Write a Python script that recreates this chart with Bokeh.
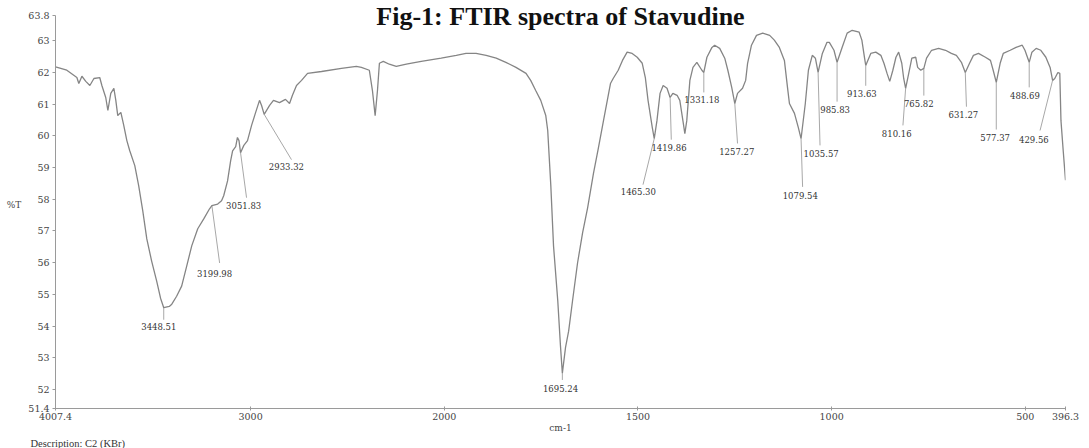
from bokeh.plotting import figure
from bokeh.models import FixedTicker, Label, Range1d, CustomJSTickFormatter, Title
from bokeh.embed import file_html
from bokeh.resources import INLINE
from bokeh.core.properties import value

# ---- spectrum (wavenumber cm-1, %T) ----
wavenumber = [
    4007.4, 3949, 3897, 3887, 3871, 3851, 3830, 3809, 3779, 3768, 3748, 3737, 3722, 3706, 3696,
    3686, 3670, 3655, 3639, 3624, 3598, 3578, 3557, 3536, 3511, 3485, 3465, 3448.5, 3420, 3407,
    3382, 3356, 3330, 3304, 3273, 3242, 3212, 3200, 3170, 3150, 3139, 3119, 3103, 3093, 3077,
    3068, 3060, 3052, 3035, 3016, 2995, 2974, 2954, 2943, 2930, 2902, 2882, 2851, 2820, 2799,
    2784, 2763, 2737, 2706, 2634, 2531, 2454, 2428, 2387, 2371, 2357, 2345, 2335, 2315, 2284,
    2248, 2196, 2119, 2016, 1969, 1944, 1918, 1892, 1866, 1841, 1815, 1789, 1777, 1764, 1751,
    1738, 1733, 1725, 1718, 1707, 1700, 1695.24, 1687, 1679, 1669, 1656, 1643, 1630, 1615, 1602,
    1589, 1571, 1564, 1551, 1540, 1528, 1515, 1502, 1489, 1481, 1474, 1463, 1458, 1451, 1443,
    1435, 1425, 1417, 1410, 1399, 1392, 1384, 1379, 1374, 1366, 1358, 1348, 1335, 1330, 1322,
    1309, 1302, 1289, 1276, 1268, 1258, 1250, 1243, 1230, 1222, 1217, 1207, 1194, 1178, 1160,
    1148, 1135, 1122, 1114, 1109, 1096, 1086, 1079, 1068, 1060, 1050, 1042, 1035, 1024, 1012,
    1006, 994, 986, 973, 960, 947, 929, 922, 915, 912, 899, 886, 873, 865, 857,
    850, 842, 834, 827, 819, 814, 809, 801, 793, 783, 778, 770, 762, 755, 742,
    724, 706, 691, 678, 665, 655, 644, 634, 621, 603, 590, 583, 575, 565, 557,
    539, 524, 508, 501, 490, 483, 472, 460, 447, 436, 429.6, 424, 416, 411, 408,
    402, 396.3,
]
transmittance = [
    62.18, 62.07, 61.84, 61.65, 61.88, 61.72, 61.59, 61.81, 61.84, 61.59, 61.21, 60.80, 61.34, 61.50, 61.12,
    60.64, 60.74, 60.33, 59.85, 59.53, 59.06, 58.43, 57.64, 56.75, 56.05, 55.42, 54.88, 54.58, 54.62, 54.69,
    54.94, 55.26, 55.89, 56.53, 57.07, 57.38, 57.70, 57.80, 57.85, 57.95, 58.11, 58.58, 59.22, 59.53, 59.66,
    59.95, 59.85, 59.47, 59.70, 59.85, 60.33, 60.74, 61.12, 60.95, 60.68, 60.96, 61.12, 61.05, 61.15, 61.02,
    61.28, 61.59, 61.75, 61.97, 62.03, 62.13, 62.19, 62.16, 62.07, 61.43, 60.64, 61.43, 62.29, 62.35, 62.26,
    62.19, 62.26, 62.35, 62.45, 62.54, 62.60, 62.60, 62.54, 62.45, 62.32, 62.16, 61.97, 61.75, 61.43, 61.12,
    60.64, 60.17, 58.43, 56.53, 54.79, 53.36, 52.51, 53.33, 53.84, 54.79, 55.99, 56.94, 57.73, 58.81, 59.63,
    60.48, 61.65, 61.81, 62.07, 62.38, 62.64, 62.60, 62.48, 62.29, 61.84, 61.12, 60.26, 59.91, 60.48, 61.34,
    61.59, 61.50, 61.21, 61.34, 61.28, 61.12, 60.48, 60.07, 60.48, 61.75, 62.16, 62.32, 62.07, 62.00, 62.48,
    62.79, 62.86, 62.76, 62.45, 62.07, 61.53, 61.02, 61.34, 61.50, 61.75, 62.29, 62.86, 63.17, 63.24, 63.17,
    63.02, 62.79, 62.38, 61.53, 61.02, 60.71, 60.26, 59.91, 61.02, 62.07, 62.54, 62.45, 62.00, 62.60, 62.95,
    62.95, 62.70, 62.32, 62.79, 63.24, 63.33, 63.27, 63.02, 62.45, 62.22, 62.60, 62.64, 62.54, 62.29, 61.97,
    61.72, 62.07, 62.48, 62.64, 62.29, 61.81, 61.50, 61.97, 62.45, 62.48, 62.16, 62.07, 62.13, 62.45, 62.70,
    62.76, 62.70, 62.60, 62.54, 62.32, 62.00, 62.29, 62.54, 62.60, 62.48, 62.38, 62.07, 61.69, 62.29, 62.60,
    62.70, 62.79, 62.86, 62.70, 62.32, 62.64, 62.76, 62.70, 62.48, 62.16, 61.75, 61.81, 62.00, 61.97, 60.48,
    59.50, 58.60,
]

# ---- peak annotations ----
peak_labels = ["3448.51", "3199.98", "3051.83", "2933.32", "1695.24", "1465.30", "1419.86",
               "1331.18", "1257.27", "1079.54", "1035.57", "985.83", "913.63", "810.16",
               "765.82", "631.27", "577.37", "488.69", "429.56"]
label_wn = [3474, 3186, 3036, 2815, 1700, 1499, 1420, 1335, 1245, 1081, 1027, 991, 922, 832,
            775, 660, 578, 501, 478]
label_t = [54.00, 55.67, 57.79, 59.03, 52.03, 58.24, 59.63, 61.15, 59.50, 58.11, 59.44, 60.83,
           61.34, 60.07, 61.02, 60.67, 59.95, 61.28, 59.88]
leader_wn_from = [3448.5, 3200, 3052, 2930, 1695.24, 1458, 1417, 1330, 1250, 1079, 1035, 986,
                  912, 809, 762, 655, 575, 490, 429.6]
leader_t_from = [54.58, 57.80, 59.47, 60.68, 52.51, 59.91, 61.21, 62.00, 61.02, 59.91, 62.00,
                 62.32, 62.22, 61.50, 62.13, 62.00, 61.69, 62.32, 61.75]
leader_wn_to = [3448.5, 3160, 3021, 2789, 1695.24, 1487, 1414, 1330, 1243, 1075, 1030, 986,
                912, 816, 762, 652, 575, 490, 462]
leader_t_to = [54.20, 55.99, 58.05, 59.25, 52.30, 58.46, 59.88, 61.37, 59.76, 58.39, 59.70,
               61.08, 61.58, 60.33, 61.27, 60.92, 60.20, 61.53, 60.17]

x_tick_values = [4007.4, 3000, 2000, 1500, 1000, 500, 396.3]
x_tick_labels = ["4007.4", "3000", "2000", "1500", "1000", "500", "396.3"]
y_tick_values = [51.4, 52, 53, 54, 55, 56, 57, 58, 59, 60, 61, 62, 63, 63.8]
y_axis_start, y_axis_end = 51.4, 63.8

title_text = "Fig-1: FTIR spectra of Stavudine"
description_text = "Description: C2  (KBr)"


# FTIR chart axis: scale doubles below 2000 cm-1
def to_axis(w):
    if w >= 2000:
        return 4007.4 - w
    return 2007.4 + 2.0 * (2000 - w)


# frame reaches the top edge so the title can sit inside it; the axis line stops at 63.8
y_top = y_axis_end + 0.47

xs = [to_axis(w) for w in wavenumber]
p = figure(width=1089, height=448, output_backend="svg", toolbar_location=None,
           x_range=Range1d(to_axis(4007.4), to_axis(396.3)),
           y_range=Range1d(y_axis_start, y_top),
           min_border_left=55, min_border_right=24, min_border_top=0, min_border_bottom=38)
p.outline_line_color = None
p.xgrid.visible = False
p.ygrid.visible = False
p.background_fill_color = "white"
p.border_fill_color = "white"

serif = "DejaVu Serif"

# leaders
p.segment(x0=[to_axis(w) for w in leader_wn_from], y0=leader_t_from,
          x1=[to_axis(w) for w in leader_wn_to], y1=leader_t_to,
          line_color="#a8a8a8", line_width=1)

# spectrum
p.line(xs, transmittance, line_color="#858585", line_width=1.3)

# peak labels
p.text(x=[to_axis(w) for w in label_wn], y=label_t, text=peak_labels,
       text_font=value(serif), text_font_size="8.5px", text_color="#333333",
       text_align="center", text_baseline="middle")

# axes
tick_pos = [to_axis(v) for v in x_tick_values]
p.xaxis.ticker = FixedTicker(ticks=tick_pos)
p.xaxis.formatter = CustomJSTickFormatter(args=dict(tick_vals=tick_pos, tick_labs=x_tick_labels), code="""
let best = 0;
for (let i = 0; i < tick_vals.length; i++) {
  if (Math.abs(tick_vals[i] - tick) < Math.abs(tick_vals[best] - tick)) { best = i; }
}
return tick_labs[best];
""")
p.yaxis.ticker = FixedTicker(ticks=y_tick_values)
p.yaxis.bounds = (y_axis_start, y_axis_end)
p.yaxis.formatter = CustomJSTickFormatter(code="""
return (Math.abs(tick - Math.round(tick)) < 1e-6) ? tick.toFixed(0) : tick.toFixed(1);
""")

for ax in (p.xaxis[0], p.yaxis[0]):
    ax.axis_line_color = "#9a9a9a"
    ax.major_tick_line_color = "#9a9a9a"
    ax.minor_tick_line_color = None
    ax.major_label_text_font = serif
    ax.major_label_text_font_size = "9.5px"
    ax.major_label_text_color = "#444444"
    ax.axis_label_text_font = serif
    ax.axis_label_text_font_size = "9px"
    ax.axis_label_text_font_style = "normal"
    ax.axis_label_text_color = "#444444"

p.xaxis.major_tick_in = 2
p.xaxis.major_tick_out = 2
p.xaxis.major_label_standoff = 2
p.xaxis.axis_label = "cm-1"
p.xaxis.axis_label_standoff = 0

p.yaxis.major_tick_in = 0
p.yaxis.major_tick_out = 3
p.yaxis.major_label_standoff = 3
p.yaxis.axis_label = "%T"
p.yaxis.axis_label_orientation = "horizontal"
p.yaxis.axis_label_standoff = 4

# title at the top of the frame
p.add_layout(Label(x=to_axis(1700), y=y_top, y_offset=-1, text=title_text,
                   text_font="Liberation Serif", text_font_size="26px", text_font_style="bold",
                   text_color="#111111", text_align="center", text_baseline="top"))

# description below the x axis
desc = Title(text=description_text, align="left", offset=-25, standoff=0,
             text_font="Liberation Serif", text_font_size="10.5px", text_font_style="normal",
             text_color="#333333")
p.add_layout(desc, "below")

open("out.html", "w").write(file_html(p, INLINE))
